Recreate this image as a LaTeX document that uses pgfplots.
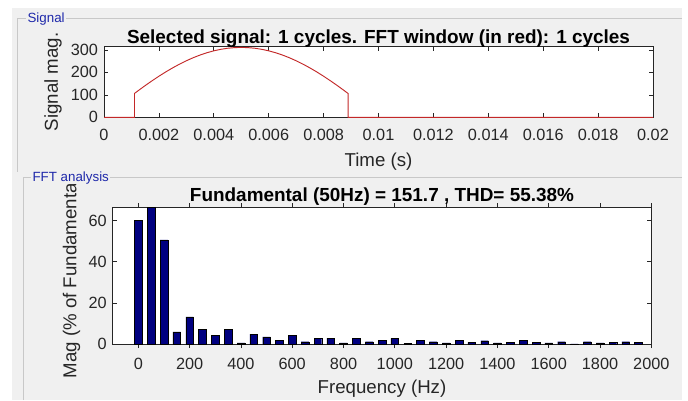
\documentclass[border=0pt]{standalone}
\usepackage{fontspec}
\setmainfont{Liberation Sans}
\usepackage{pgfplots}
\pgfplotsset{compat=1.18}
\definecolor{guibg}{RGB}{240,240,240}
\definecolor{frameln}{RGB}{200,200,200}
\definecolor{axcol}{RGB}{38,38,38}
\definecolor{sigred}{RGB}{195,40,40}
\definecolor{navybar}{RGB}{0,0,128}
\definecolor{paneltxt}{RGB}{30,40,170}
\pgfplotsset{
  every axis title shift=0pt,
  matstyle/.style={
    scale only axis, anchor=south west,
    axis background/.style={fill=white},
    axis line style={axcol, line width=0.6pt},
    tick style={axcol, line width=0.5pt},
    major tick length=3pt,
    /pgf/number format/assume math mode=true,
    /pgf/number format/set thousands separator={},
    tick label style={font=\fontsize{12.2}{14}\selectfont, text=axcol},
    label style={font=\fontsize{14}{16}\selectfont, text=axcol},
    title style={font=\fontsize{14.2}{16}\selectfont\bfseries, text=black},
  }
}
\begin{document}
\begin{tikzpicture}
\useasboundingbox (0,0) rectangle (516pt,300pt);
\fill[white] (0,0) rectangle (516pt,300pt);
\fill[guibg] (9pt,0) rectangle (511.5pt,294pt);
% Signal panel frame
\draw[frameln, line width=0.75pt] (12.75pt,171pt) -- (12.75pt,285.75pt) -- (511.5pt,285.75pt);
\node[anchor=west, fill=guibg, inner xsep=1pt, inner ysep=0pt, text=paneltxt, font=\fontsize{10}{12}\selectfont] at (19.5pt,285.75pt) {Signal};
% FFT panel frame
\draw[frameln, line width=0.75pt] (17.25pt,0pt) -- (17.25pt,166.5pt) -- (511.5pt,166.5pt);
\node[anchor=west, fill=guibg, inner xsep=1pt, inner ysep=0pt, text=paneltxt, font=\fontsize{10}{12}\selectfont] at (23.25pt,166.5pt) {FFT analysis};

\begin{axis}[matstyle,
  at={(78pt,212pt)}, width=411.75pt, height=52.95pt,
  xmin=0, xmax=0.02, ymin=0, ymax=314,
  xtick={0,0.002,0.004,0.006,0.008,0.01,0.012,0.014,0.016,0.018,0.02},
  xticklabels={0,0.002,0.004,0.006,0.008,0.01,0.012,0.014,0.016,0.018,0.02},
  scaled x ticks=false,
  ytick={0,100,200,300},
  xticklabel style={yshift=-5pt},
  yticklabel style={xshift=-1pt},
  xlabel={Time (s)}, ylabel={Signal mag.},
  xlabel style={at={(axis description cs:0.5,-0.63)}, anchor=center},
  ylabel style={at={(axis description cs:-0.0929,0.5)}, anchor=center},
  title={Selected signal: 1 cycles. FFT window (in red): 1 cycles},
  title style={at={(axis description cs:0.5,1)}, anchor=base, yshift=2.6pt},
]
\addplot[sigred, line width=0.7pt] coordinates {
(0,0) (0.00111,0) (0.00111,106.3) (0.00125,119.0) (0.0015,141.2) (0.00175,162.5)
(0.002,182.8) (0.00225,202.0) (0.0025,219.9) (0.00275,236.5) (0.003,251.6)
(0.00325,265.2) (0.0035,277.1) (0.00375,287.3) (0.004,295.8) (0.00425,302.4)
(0.0045,307.2) (0.00475,310.0) (0.005,311.0) (0.00525,310.0) (0.0055,307.2)
(0.00575,302.4) (0.006,295.8) (0.00625,287.3) (0.0065,277.1) (0.00675,265.2)
(0.007,251.6) (0.00725,236.5) (0.0075,219.9) (0.00775,202.0) (0.008,182.8)
(0.00825,162.5) (0.0085,141.2) (0.00875,119.0) (0.00889,106.3) (0.00889,0)
(0.02,0)};
\end{axis}

\begin{scope}
\clip (17.25pt,0) rectangle (511.5pt,161.5pt);
\begin{axis}[matstyle,
  at={(84.5pt,42pt)}, width=404pt, height=102.7pt,
  xmin=-100, xmax=2000, ymin=0, ymax=66.6,
  xtick={0,200,...,2000}, ytick={0,20,40,60},
  xticklabel style={yshift=-4pt},
  yticklabel style={xshift=-1pt},
  xlabel={Frequency (Hz)}, ylabel={Mag (\% of Fundamental)},
  xlabel style={at={(axis description cs:0.5,-0.325)}, anchor=center},
  ylabel style={at={(axis description cs:-0.0762,0.5)}, anchor=center},
  title={Fundamental (50Hz) = 151.7 , THD= 55.38\%},
  title style={at={(axis description cs:0.5,1)}, anchor=base, yshift=4.5pt},
  ybar, bar width=30, bar shift=0pt,
]
\addplot[fill=navybar, draw=black, line width=0.3pt] coordinates {
(0,60.3) (50,66.6) (100,50.6) (150,5.9) (200,13.2) (250,7.2) (300,4.3)
(350,7.2) (400,0.5) (450,4.8) (500,3.5) (550,1.9) (600,4.3) (650,1.1)
(700,2.9) (750,2.9) (800,0.5) (850,2.9) (900,1.1) (950,1.9) (1000,2.7)
(1050,0.2) (1100,1.9) (1150,1.1) (1200,0.6) (1250,1.9) (1300,0.8)
(1350,1.6) (1400,0.6) (1450,0.8) (1500,1.9) (1550,0.8) (1600,0.6)
(1650,1.1) (1700,0.1) (1750,1.1) (1800,0.6) (1850,0.8) (1900,1.1)
(1950,0.8)};
\end{axis}
\end{scope}
\end{tikzpicture}
\end{document}
